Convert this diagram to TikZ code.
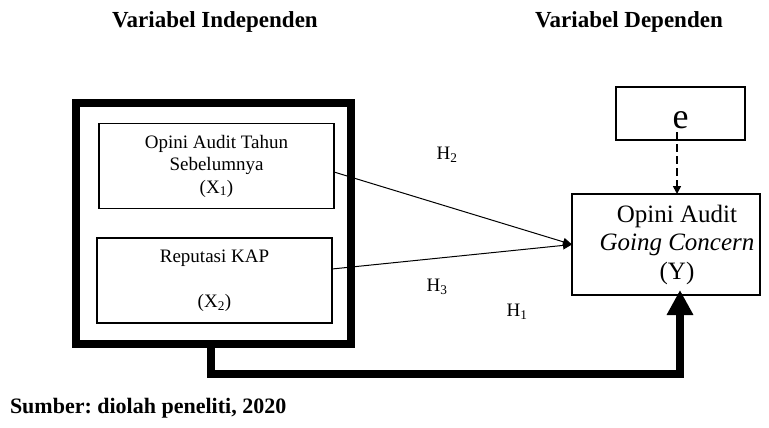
\documentclass[tikz,border=0pt]{standalone}
\usepackage{fontspec}
\setmainfont{Liberation Serif}
\usetikzlibrary{arrows.meta}
\frenchspacing
\begin{document}
\begin{tikzpicture}[x=1pt,y=-1pt,
  every node/.style={inner sep=0pt,outer sep=0pt},
  title/.style={font=\fontsize{23}{26}\selectfont\bfseries},
  outerbox/.style={draw,line width=8pt,minimum width=275pt,minimum height=241pt},
  varbox/.style={draw,line width=1.8pt,minimum width=235pt,minimum height=85pt,align=center,font=\fontsize{19}{22.5}\selectfont},
  ybox/.style={draw,line width=1.8pt,minimum width=188pt,minimum height=101pt},
  hlabel/.style={font=\fontsize{19}{22}\selectfont},
  thin arrow/.style={line width=1pt,-{Triangle[length=9pt,width=8pt]}},
  thick arrow/.style={line width=8pt,-{Triangle[length=25pt,width=25pt]}}
]
\useasboundingbox (0,0) rectangle (769,428);
% titles
\node[title] (t1) at (215,22) {Variabel Independen};
\node[title] (t2) at (629,22) {Variabel Dependen};
% boxes
\node[outerbox] (outer) at (213.5,223.5) {};
\node[varbox] (x1) at (216.5,166) {Opini Audit Tahun\\Sebelumnya\\(X\textsubscript{1})};
\node[varbox] (x2) at (214.5,280.5) {Reputasi KAP\\[22.5pt](X\textsubscript{2})};
\node[ybox] (y) at (666,244.5) {};
\node[align=center,font=\fontsize{25}{28.5}\selectfont] (ytext) at (677,244.5) {Opini Audit\\\textit{Going Concern}\\(Y)};
\node[draw,line width=1.8pt,minimum width=129pt,minimum height=53pt] (e) at (680.5,113.5) {};
\node[font=\fontsize{36}{38}\selectfont] (etext) at (680.5,120) {e};
% labels
\node[hlabel] (h2) at (447,155) {H\textsubscript{2}};
\node[hlabel] (h3) at (437,287) {H\textsubscript{3}};
\node[hlabel] (h1) at (517,312) {H\textsubscript{1}};
% connectors
\coordinate (yin) at (y.west);
\draw[thin arrow] ([yshift=-6pt]x1.east) -- (yin);
\draw[thin arrow] ([yshift=11.5pt]x2.east) -- (yin);
\draw[line width=1.6pt,dash pattern=on 8pt off 4pt,-{Triangle[length=8pt,width=8pt]}] ([xshift=-3.5pt,yshift=8pt]e.south) -- ([xshift=11pt]y.north);
\coordinate (bend1) at (211,374);
\coordinate (bend2) at (680,374);
\draw[thick arrow,line join=miter] ([xshift=-2.5pt]outer.south) -- (bend1) -- (bend2) -- ([xshift=14pt,yshift=5pt]y.south);
% footer
\node[font=\fontsize{22}{24}\selectfont\bfseries,anchor=west] (src) at (10,408) {Sumber: diolah peneliti, 2020};
\end{tikzpicture}
\end{document}
